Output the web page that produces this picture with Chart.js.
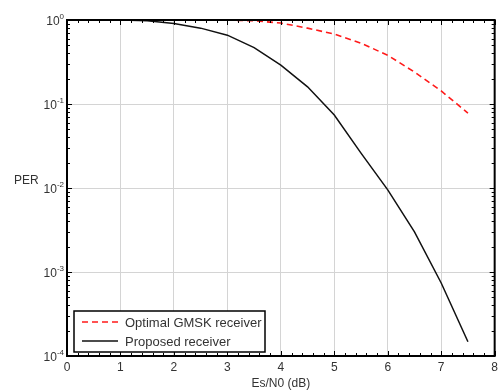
<!DOCTYPE html>
<html>
<head>
<meta charset="utf-8">
<script src="https://cdn.jsdelivr.net/npm/chart.js@4"></script>
<style>
    html, body { margin: 0; padding: 0; background: #fff; }
    #wrap { width: 502px; height: 391px; }
</style>
</head>
<body>
<div id="wrap"><canvas id="per_chart"></canvas></div>
<script>
// Es/N0 points (dB)
const esn0 = [0, 0.5, 1, 1.5, 2, 2.5, 3, 3.5, 4, 4.5, 5, 5.5, 6, 6.5, 7, 7.5];
// PER
const perGmsk = [1, 1, 1, 1, 1, 1, 0.995, 0.98, 0.92, 0.8, 0.68, 0.53, 0.38, 0.24, 0.143, 0.078];
const perProposed = [1, 1, 1, 0.98, 0.91, 0.8, 0.66, 0.47, 0.29, 0.16, 0.074, 0.026, 0.0095, 0.003, 0.00074, 0.000148];
const yDecades = [-4, -3, -2, -1, 0];
const xTicks = [0, 1, 2, 3, 4, 5, 6, 7, 8];

const labelFont = "12px 'Liberation Sans', Arial, sans-serif";
const supFont = "8px 'Liberation Sans', Arial, sans-serif";

// frame, minor ticks, log labels, "PER" and the legend box
const perDecor = {
    id: "perDecor",
    afterDraw(chart) {
        const ctx = chart.ctx;
        const a = chart.chartArea;
        const xs = chart.scales.x, ys = chart.scales.y;
        ctx.save();

        // minor ticks, drawn inward
        ctx.strokeStyle = "#000";
        ctx.lineWidth = 1;
        ctx.beginPath();
        for (let v = 0; v <= 8.001; v += 0.2) {
            const px = Math.round(xs.getPixelForValue(v)) + 0.5;
            const len = Math.abs(v - Math.round(v)) < 0.01 ? 5 : 3;
            ctx.moveTo(px, a.bottom); ctx.lineTo(px, a.bottom - len);
            ctx.moveTo(px, a.top); ctx.lineTo(px, a.top + len);
        }
        yDecades.forEach(function (d) {
            for (let m = 1; m <= 9; m++) {
                if (d === 0 && m > 1) break;
                const py = Math.round(ys.getPixelForValue(m * Math.pow(10, d))) + 0.5;
                const len = m === 1 ? 5 : 3;
                ctx.moveTo(a.left, py); ctx.lineTo(a.left + len, py);
                ctx.moveTo(a.right, py); ctx.lineTo(a.right - len, py);
            }
        });
        ctx.stroke();

        // frame
        ctx.lineWidth = 2;
        ctx.strokeRect(a.left, a.top, a.right - a.left, a.bottom - a.top);

        // y labels 10^n
        ctx.fillStyle = "#333";
        ctx.textBaseline = "alphabetic";
        yDecades.forEach(function (d) {
            const py = ys.getPixelForValue(Math.pow(10, d));
            const exp = d === 0 ? "0" : "-" + Math.abs(d);
            ctx.font = supFont;
            const ew = ctx.measureText(exp).width;
            ctx.textAlign = "right";
            ctx.fillText(exp, a.left - 3, py - 1);
            ctx.font = labelFont;
            ctx.fillText("10", a.left - 3 - ew, py + 5);
        });
        ctx.font = labelFont;
        ctx.textAlign = "left";
        ctx.fillText("PER", 14, ys.getPixelForValue(0.01) - 4);

        // legend
        const lx = 74, ly = 311, lw = 191, lh = 41;
        ctx.fillStyle = "#fff";
        ctx.fillRect(lx, ly, lw, lh);
        ctx.lineWidth = 1.5;
        ctx.strokeStyle = "#000";
        ctx.strokeRect(lx, ly, lw, lh);
        const rows = [322, 341];
        chart.data.datasets.forEach(function (ds, i) {
            ctx.beginPath();
            ctx.strokeStyle = ds.borderColor;
            ctx.lineWidth = 1.5;
            ctx.setLineDash(ds.borderDash || []);
            ctx.moveTo(82, rows[i]);
            ctx.lineTo(118, rows[i]);
            ctx.stroke();
            ctx.setLineDash([]);
            ctx.fillStyle = "#333";
            ctx.font = "13px 'Liberation Sans', Arial, sans-serif";
            ctx.textBaseline = "middle";
            ctx.fillText(ds.label, 125, rows[i] + 1);
        });
        ctx.restore();
    },
};

new Chart(document.getElementById("per_chart"), {
    type: "line",
    data: {
        datasets: [
            {
                label: "Optimal GMSK receiver",
                data: esn0.map((x, i) => ({ x: x, y: perGmsk[i] })),
                borderColor: "#ff1a1a",
                borderDash: [6, 4],
                borderWidth: 1.6,
                pointRadius: 0,
                fill: false,
            },
            {
                label: "Proposed receiver",
                data: esn0.map((x, i) => ({ x: x, y: perProposed[i] })),
                borderColor: "#111",
                borderWidth: 1.5,
                pointRadius: 0,
                fill: false,
            },
        ],
    },
    options: {
        responsive: true,
        maintainAspectRatio: false,
        animation: false,
        layout: { padding: { left: 7, right: 5, top: 20, bottom: 0 } },
        plugins: { legend: { display: false }, tooltip: { enabled: false } },
        scales: {
            x: {
                type: "linear",
                min: 0,
                max: 8,
                afterBuildTicks: (s) => { s.ticks = xTicks.map((v) => ({ value: v })); },
                afterFit: (s) => { s.height = 35; },
                grid: { color: "#d4d4d4", lineWidth: 1, drawTicks: false },
                border: { display: false },
                ticks: {
                    color: "#333",
                    padding: 4,
                    font: { family: "'Liberation Sans', Arial, sans-serif", size: 12 },
                },
                title: {
                    display: true,
                    text: "Es/N0 (dB)",
                    color: "#333",
                    padding: { top: 0, bottom: 0 },
                    font: { family: "'Liberation Sans', Arial, sans-serif", size: 12 },
                },
            },
            y: {
                type: "logarithmic",
                min: 1e-4,
                max: 1,
                afterBuildTicks: (s) => { s.ticks = yDecades.map((d) => ({ value: Math.pow(10, d) })); },
                afterFit: (s) => { s.width = 60; },
                grid: { color: "#d4d4d4", lineWidth: 1, drawTicks: false },
                border: { display: false },
                ticks: { display: false },
            },
        },
    },
    plugins: [perDecor],
});
</script>
</body>
</html>
